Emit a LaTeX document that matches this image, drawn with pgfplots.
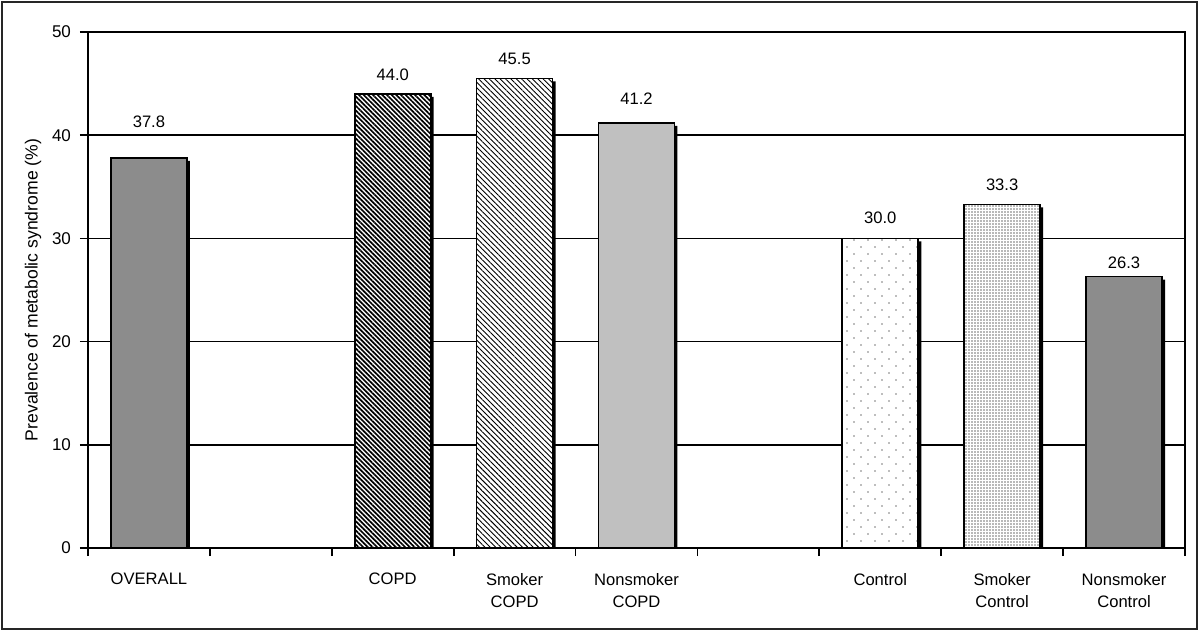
\documentclass[border=0pt]{standalone}
\usepackage{fontspec}
\setmainfont{Liberation Sans}
\usepackage{pgfplots}
\pgfplotsset{compat=1.18}
\usetikzlibrary{patterns,patterns.meta}
\definecolor{barA}{HTML}{8C8C8C}
\definecolor{barB}{HTML}{C0C0C0}
\begin{document}
\begin{tikzpicture}
\useasboundingbox (-44pt,-42pt) rectangle (556pt,274pt);
\draw[line width=1pt, black!85] (-43pt,-40.5pt) rectangle (554.5pt,273pt);
\begin{axis}[
  at={(0pt,0pt)}, anchor=south west,
  scale only axis, width=548.5pt, height=258pt,
  xmin=-0.5, xmax=8.5, ymin=0, ymax=50,
  ytick={0,10,...,50},
  ymajorgrids, major grid style={black, line width=0.85pt},
  axis line style={line width=0.85pt},
  tick pos=left, tick align=outside,
  major tick length=4pt, minor tick length=4pt,
  xtick={0,2,3,4,6,7,8},
  xticklabels={OVERALL, COPD, Smoker\\COPD, Nonsmoker\\COPD, Control, Smoker\\Control, Nonsmoker\\Control},
  xticklabel style={align=center, anchor=north, font=\fontsize{8.3}{11}\selectfont, yshift=-5pt},
  major x tick style={draw=none},
  minor xtick={-0.5,0.5,...,8.5},
  minor x tick style={black, line width=0.85pt},
  y tick style={black, line width=0.85pt},
  yticklabel style={font=\fontsize{8.5}{10}\selectfont, xshift=-1pt},
  /pgf/number format/assume math mode=true,
  ylabel={Prevalence of metabolic syndrome (\%)},
  ylabel style={font=\fontsize{8.8}{10}\selectfont, at={(rel axis cs:0,0.5)}, anchor=center, yshift=27.5pt},
  every node near coord/.style={anchor=center, font=\fontsize{8.3}{10}\selectfont},
]
% shadows
\addplot[ybar, bar width=38pt, bar shift=1.5pt, yshift=-1.5pt, fill=black, draw=none]
  coordinates {(0,37.8) (2,44.0) (3,45.5) (4,41.2) (6,30.0) (7,33.3) (8,26.3)};
% OVERALL
\addplot[ybar, bar width=38pt, bar shift=0pt, fill=barA, draw=black, line width=0.8pt]
  coordinates {(0,37.8)};
% COPD
\addplot[ybar, bar width=38pt, bar shift=0pt, fill=white, draw=black, line width=0.8pt,
  postaction={pattern={Lines[angle=-45, distance=1.65pt, line width=0.85pt]}, pattern color=black}]
  coordinates {(2,44.0)};
% Smoker COPD
\addplot[ybar, bar width=38pt, bar shift=0pt, fill=white, draw=black, line width=0.8pt,
  postaction={pattern={Lines[angle=-45, distance=1.9pt, line width=0.45pt]}, pattern color=black}]
  coordinates {(3,45.5)};
% Nonsmoker COPD
\addplot[ybar, bar width=38pt, bar shift=0pt, fill=barB, draw=black, line width=0.8pt]
  coordinates {(4,41.2)};
% Control
\addplot[ybar, bar width=38pt, bar shift=0pt, fill=white, draw=black, line width=0.8pt,
  postaction={pattern={Dots[angle=45, distance=4.95pt, radius=0.45pt]}, pattern color=black!60}]
  coordinates {(6,30.0)};
% Smoker Control
\addplot[ybar, bar width=38pt, bar shift=0pt, fill=white, draw=black, line width=0.8pt,
  postaction={pattern={Dots[distance=1.5pt, radius=0.45pt]}, pattern color=black!55}]
  coordinates {(7,33.3)};
% Nonsmoker Control
\addplot[ybar, bar width=38pt, bar shift=0pt, fill=barA, draw=black, line width=0.8pt]
  coordinates {(8,26.3)};
% value labels
\addplot[draw=none, mark=none, nodes near coords, point meta=explicit symbolic]
  coordinates {(0,41.3)[37.8] (2,45.85)[44.0] (3,47.4)[45.5] (4,43.5)[41.2] (6,32.0)[30.0] (7,35.2)[33.3] (8,27.6)[26.3]};
\end{axis}
\end{tikzpicture}
\end{document}
